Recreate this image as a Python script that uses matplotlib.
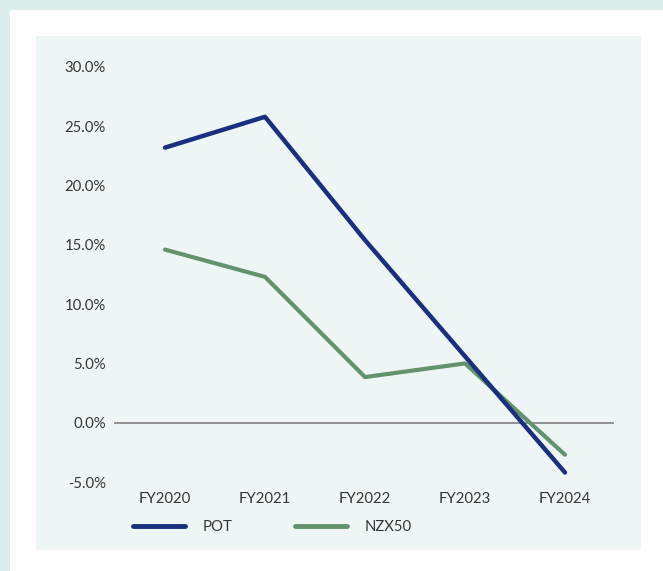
import matplotlib
matplotlib.use("Agg")
import matplotlib.pyplot as plt
from matplotlib.patches import Rectangle

categories = ["FY2020", "FY2021", "FY2022", "FY2023", "FY2024"]
pot = [23.2, 25.8, 15.4, 5.6, -4.2]
nzx50 = [14.6, 12.3, 3.85, 5.0, -2.7]
yticks = [-5, 0, 5, 10, 15, 20, 25, 30]

plt.rcParams['font.family'] = ['Lato', 'DejaVu Sans']

W, H = 663, 571
fig = plt.figure(figsize=(W / 100, H / 100), dpi=100)
fig.patch.set_facecolor("#dbeeeb")

def px_rect(x0, y0, x1, y1, color):
    fig.patches.append(Rectangle((x0 / W, 1 - y1 / H), (x1 - x0) / W, (y1 - y0) / H,
                                 transform=fig.transFigure, facecolor=color,
                                 edgecolor="none", zorder=-10))

px_rect(10, 10, W + 5, H + 5, "white")
px_rect(36, 36, 641, 550, "#edf6f4")

FS = 10.7
ax = fig.add_axes([114 / W, 1 - 482 / H, 500 / W, 415 / H])
ax.set_facecolor("none")
x = list(range(len(categories)))
ax.plot(x, pot, color="#1b2f80", lw=3.2, solid_capstyle="round", label="POT", zorder=3)
ax.plot(x, nzx50, color="#62936c", lw=3.0, solid_capstyle="round", label="NZX50", zorder=2)
ax.axhline(0, color="#808080", lw=1.2, zorder=1)

ax.set_xlim(-0.51, 4.49)
ax.set_ylim(-5, 30)
ax.set_xticks(x)
ax.set_xticklabels(categories)
ax.set_yticks(yticks)
ax.set_yticklabels([f"{v:.1f}%" for v in yticks])
ax.tick_params(length=0, labelsize=FS, colors="#363636")
ax.tick_params(axis="x", pad=7)
ax.tick_params(axis="y", pad=6)
for s in ax.spines.values():
    s.set_visible(False)

leg = fig.legend(loc="center left", bbox_to_anchor=(133 / W, 1 - 527 / H), ncol=2,
                 frameon=False, fontsize=FS, handlelength=3.5, handletextpad=1.2,
                 columnspacing=4.2, borderpad=0, borderaxespad=0)
for t in leg.get_texts():
    t.set_color("#363636")
for l in leg.get_lines():
    l.set_linewidth(3.5)

fig.savefig("out.png", dpi=100)
